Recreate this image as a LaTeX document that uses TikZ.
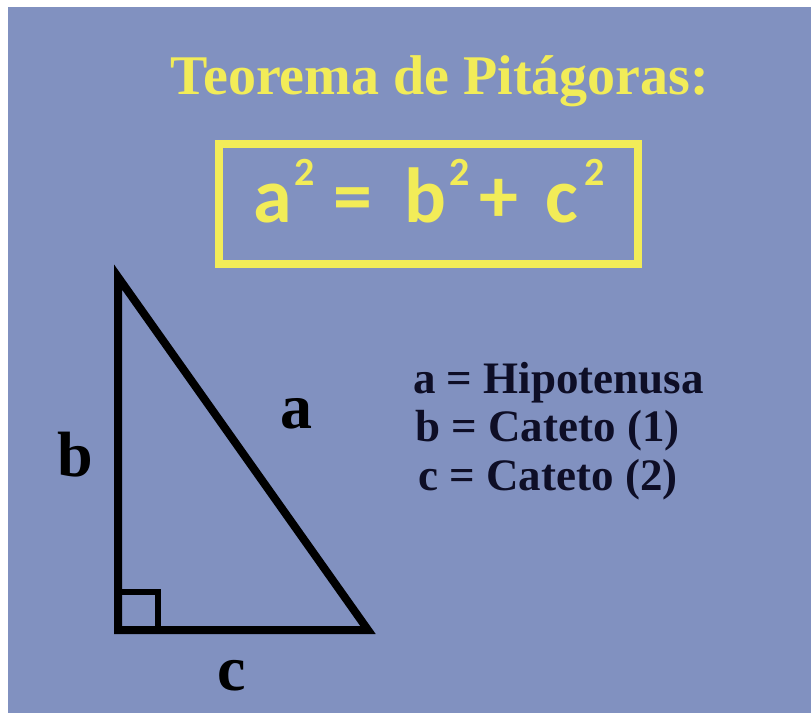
\documentclass[tikz,border=0pt]{standalone}
\usepackage{fontspec}
\setmainfont{Liberation Serif}
\newfontfamily\formulafont{Carlito}

\definecolor{bgblue}{HTML}{8191C0}
\definecolor{chalkyellow}{HTML}{F2EC58}
\definecolor{legendink}{HTML}{0E0E26}

\newcommand{\sq}{\raisebox{37pt}{\fontsize{40}{40}\selectfont 2}}
\newcommand{\slot}[2]{\makebox[#1pt][l]{#2}}

\begin{document}
\begin{tikzpicture}[x=1pt,y=-1pt,
    sidelabel/.style={font=\bfseries\fontsize{64}{64}\selectfont,text=black,inner sep=0},
    legendline/.style={font=\bfseries\fontsize{45}{45}\selectfont,text=legendink,inner sep=0,anchor=base west}]

\useasboundingbox (0,0) rectangle (811,723);
\fill [white] (0,0) rectangle (811,723);
\fill [bgblue] (8,7) rectangle (811,713);

% title and formula

\node (title) [font=\bfseries\fontsize{56}{56}\selectfont,text=chalkyellow,anchor=base] at (440,94) {Teorema de Pitágoras:};

\node (formulabox) [draw=chalkyellow,line width=8,minimum width=419,minimum height=120,inner sep=0] at (428.5,204) {};
\node (formula) [font=\formulafont\bfseries\fontsize{78}{78}\selectfont,text=chalkyellow,anchor=base west,inner sep=0] at (253,222)
    {\slot{41.5}{a}\slot{38.5}{\sq}\slot{71.5}{=}\slot{45}{b}\slot{30}{\sq}\slot{66}{+}\slot{38.5}{c}\sq};

% triangle

\coordinate (top) at (118,277);
\coordinate (corner) at (118,630);
\coordinate (tip) at (368,630);

\draw [line width=8,line join=miter] (top) -- (corner) -- (tip) -- cycle;
\draw [line width=6] (corner) rectangle ++(40,-38);

\node (sideA) [sidelabel] at (296,414) {a};
\node (sideB) [sidelabel] at (75,455) {b};
\node (sideC) [sidelabel] at (232,676) {c};

% legend

\foreach \x/\y/\txt [count=\i] in {
    413/393/{a = Hipotenusa},
    415/441/{b = Cateto (1)},
    418/490/{c = Cateto (2)}}
    \node (legend\i) [legendline] at (\x,\y) {\txt};

\end{tikzpicture}
\end{document}
